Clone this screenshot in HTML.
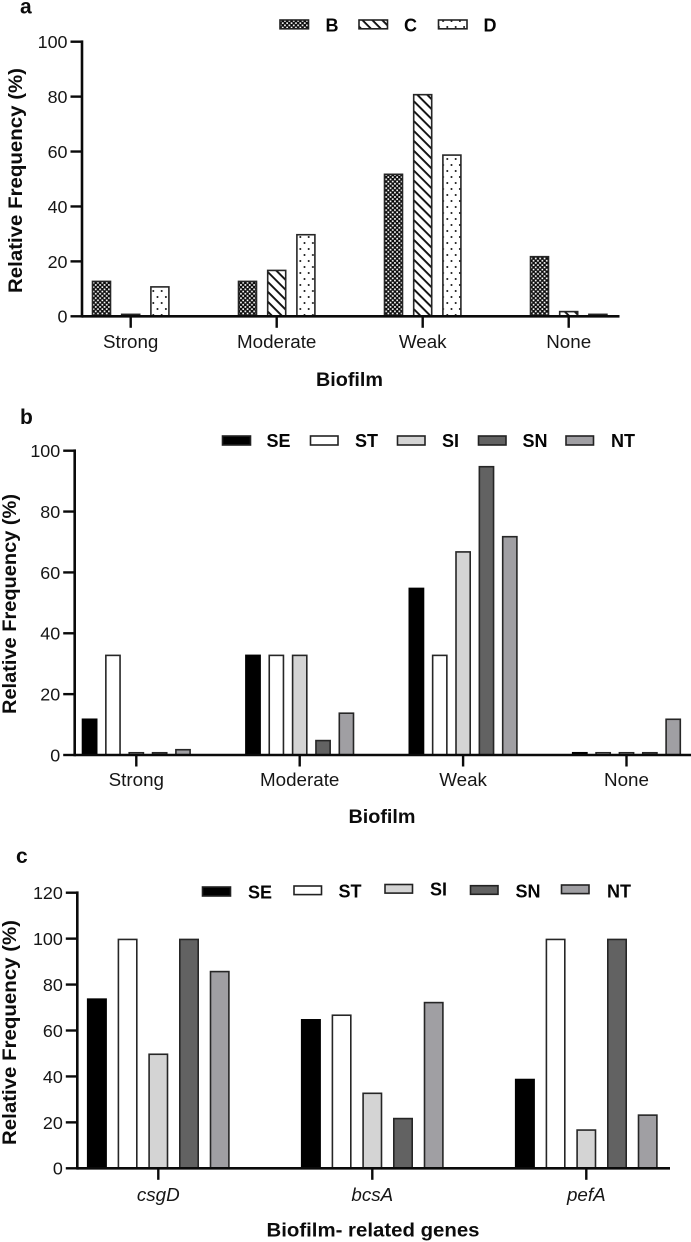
<!DOCTYPE html>
<html lang="en">
<head>
<meta charset="utf-8">
<title>Relative frequency of biofilm categories</title>
<style>
html,body{margin:0;padding:0;background:#fff;}
svg{display:block;font-family:"Liberation Sans",Arial,sans-serif;}
.bold{font-weight:700;fill:#111;}
.tick{font-size:17.9px;fill:#161616;}
.cat{font-size:18.8px;fill:#161616;}
.leg{font-size:18px;font-weight:700;fill:#050505;}
.title{font-size:19.8px;font-weight:700;fill:#0c0c0c;}
.panel{font-size:21px;font-weight:700;fill:#0c0c0c;}
</style>
</head>
<body>
<svg id="fig" width="691" height="1242" viewBox="0 0 691 1242" xmlns="http://www.w3.org/2000/svg">
  <defs>
    <pattern id="pat-b" width="4.4" height="4.4" patternUnits="userSpaceOnUse">
      <rect width="4.4" height="4.4" fill="#0b0b0b"/>
      <rect x="0.3" y="0.3" width="1.7" height="1.7" fill="#fff"/>
      <rect x="2.5" y="2.5" width="1.7" height="1.7" fill="#fff"/>
    </pattern>
    <pattern id="pat-c" width="7" height="7" patternUnits="userSpaceOnUse" patternTransform="rotate(45)">
      <rect width="7" height="7" fill="#fff"/>
      <rect width="7" height="1.9" y="2" fill="#111"/>
    </pattern>
    <pattern id="pat-d" width="8.4" height="12" patternUnits="userSpaceOnUse">
      <rect width="8.4" height="12" fill="#fff"/>
      <circle cx="2.1" cy="3" r="1" fill="#111"/>
      <circle cx="6.3" cy="9" r="1" fill="#111"/>
    </pattern>
  </defs>
  <rect width="691" height="1242" fill="#fff"/>

  <text class="panel" x="20" y="13.5">a</text>
  <text class="panel" x="20" y="424">b</text>
  <text class="panel" x="16" y="863">c</text>

  <g stroke="#222" stroke-width="1.6">
    <rect x="280" y="20" width="28.5" height="8.8" fill="url(#pat-b)"/>
    <text class="leg" stroke="none" x="325.5" y="31.3">B</text>
    <rect x="359" y="20" width="28.5" height="8.8" fill="url(#pat-c)"/>
    <text class="leg" stroke="none" x="404" y="31.3">C</text>
    <rect x="438.5" y="20" width="28.5" height="8.8" fill="url(#pat-d)"/>
    <text class="leg" stroke="none" x="483.5" y="31.3">D</text>
  </g>

  <g stroke="#222" stroke-width="1.6">
    <rect x="222.5" y="436" width="28" height="9" fill="#000"/>
    <text class="leg" stroke="none" x="266.5" y="447">SE</text>
    <rect x="310.5" y="436" width="27.5" height="9" fill="#fff"/>
    <text class="leg" stroke="none" x="355" y="447">ST</text>
    <rect x="397.5" y="436" width="27.5" height="9" fill="#d4d4d4"/>
    <text class="leg" stroke="none" x="442" y="447">SI</text>
    <rect x="478.5" y="436" width="27.5" height="9" fill="#626262"/>
    <text class="leg" stroke="none" x="522.5" y="447">SN</text>
    <rect x="566" y="436" width="27.5" height="9" fill="#a09fa3"/>
    <text class="leg" stroke="none" x="611" y="447">NT</text>
  </g>

  <g stroke="#222" stroke-width="1.6">
    <rect x="202.5" y="887" width="28" height="9" fill="#000"/>
    <text class="leg" stroke="none" x="248" y="898.5">SE</text>
    <rect x="294" y="886" width="27.5" height="8.6" fill="#fff"/>
    <text class="leg" stroke="none" x="338.5" y="897.5">ST</text>
    <rect x="385" y="884.5" width="27.5" height="8.6" fill="#d4d4d4"/>
    <text class="leg" stroke="none" x="430" y="895.5">SI</text>
    <rect x="470.5" y="885.7" width="27.5" height="8.6" fill="#626262"/>
    <text class="leg" stroke="none" x="515.5" y="897.5">SN</text>
    <rect x="561.5" y="885" width="27.5" height="8.6" fill="#a09fa3"/>
    <text class="leg" stroke="none" x="607" y="897.5">NT</text>
  </g>

  <text class="title" transform="translate(22,180.5) rotate(-90)" text-anchor="middle" textLength="225" lengthAdjust="spacingAndGlyphs">Relative Frequency (%)</text>
  <text class="title" x="349.5" y="386" text-anchor="middle">Biofilm</text>
  <text class="title" transform="translate(16,604) rotate(-90)" text-anchor="middle" textLength="220" lengthAdjust="spacingAndGlyphs">Relative Frequency (%)</text>
  <text class="title" x="382" y="823" text-anchor="middle">Biofilm</text>
  <text class="title" transform="translate(16,1032.5) rotate(-90)" text-anchor="middle" textLength="225" lengthAdjust="spacingAndGlyphs">Relative Frequency (%)</text>
  <text class="title" x="373" y="1236.5" text-anchor="middle" textLength="213" lengthAdjust="spacingAndGlyphs">Biofilm- related genes</text>
</svg>

<script>
// Chart a data
const categoriesA = ["Strong", "Moderate", "Weak", "None"];
const seriesNamesA = ["B", "C", "D"];
const valuesAB = [13, 13, 52, 22];
const valuesAC = [1, 17, 81, 2];
const valuesAD = [11, 30, 59, 1];
const ticksA = [0, 20, 40, 60, 80, 100];

// Chart b data
const categoriesB = ["Strong", "Moderate", "Weak", "None"];
const seriesNamesB = ["SE", "ST", "SI", "SN", "NT"];
const valuesBSE = [12, 33, 55, 1];
const valuesBST = [33, 33, 33, 1];
const valuesBSI = [1, 33, 67, 1];
const valuesBSN = [1, 5, 95, 1];
const valuesBNT = [2, 14, 72, 12];
const ticksB = [0, 20, 40, 60, 80, 100];

// Chart c data
const categoriesC = ["csgD", "bcsA", "pefA"];
const seriesNamesC = ["SE", "ST", "SI", "SN", "NT"];
const valuesCSE = [74, 65, 39];
const valuesCST = [100, 67, 100];
const valuesCSI = [50, 33, 17];
const valuesCSN = [100, 22, 100];
const valuesCNT = [86, 72.5, 23.5];
const ticksC = [0, 20, 40, 60, 80, 100, 120];

const NS = "http://www.w3.org/2000/svg";
const fig = document.getElementById("fig");

function make(tag, attrs, parent) {
  const el = document.createElementNS(NS, tag);
  for (const k in attrs) el.setAttribute(k, attrs[k]);
  parent.appendChild(el);
  return el;
}

function drawChart(cfg) {
  const root = make("g", {}, fig);
  
  

  const maxTick = cfg.ticks[cfg.ticks.length - 1];
  const yScale = v => cfg.y0 - (v / maxTick) * (cfg.y0 - cfg.yTop);
  const xScale = i => cfg.xFirst + i * cfg.xStep;
  const n = cfg.series.length;

  // bars
  cfg.series.forEach((vals, s) => {
    vals.forEach((v, i) => {
      const cx = xScale(i) + (s - (n - 1) / 2) * cfg.barStep;
      const top = yScale(v);
      const bar = make("rect", {
        x: cx - cfg.barW / 2 + 0.8,
        y: top + 0.8,
        width: cfg.barW - 1.6,
        height: Math.max(cfg.y0 - top - 0.8, 0.5),
        fill: cfg.fills[s],
        stroke: s === 0 && cfg.black ? "#000" : "#262626",
        "stroke-width": 1.6
      }, root);
      
      
    });
  });

  // y axis line
  const yAxis = make("line", {
    x1: cfg.xAxis, x2: cfg.xAxis, y1: cfg.yTop - 1.3, y2: cfg.y0 + 1.3,
    stroke: "#0a0a0a", "stroke-width": 2.6
  }, root);
  
  

  // x axis line
  const xAxis = make("line", {
    x1: cfg.xAxis, x2: cfg.xEnd, y1: cfg.y0, y2: cfg.y0,
    stroke: "#0a0a0a", "stroke-width": 2.6
  }, root);
  
  

  // y ticks
  cfg.ticks.forEach(t => {
    const y = yScale(t);
    const tick = make("line", {
      x1: cfg.xAxis - 11.5, x2: cfg.xAxis, y1: y, y2: y,
      stroke: "#0a0a0a", "stroke-width": 2.4
    }, root);
    
    
    const label = make("text", {
      x: cfg.xAxis - 14.5, y: y + 6.4, "text-anchor": "end", class: "tick"
    }, root);
    
    
    label.textContent = String(t);
  });

  // x ticks
  cfg.categories.forEach((c, i) => {
    const x = xScale(i);
    const tick = make("line", {
      x1: x, x2: x, y1: cfg.y0, y2: cfg.y0 + 11.5,
      stroke: "#0a0a0a", "stroke-width": 2.4
    }, root);
    
    
    const label = make("text", {
      x: x, y: cfg.catY, "text-anchor": "middle", class: "cat"
    }, root);
    
    
    if (cfg.italic) label.setAttribute("font-style", "italic");
    label.textContent = c;
  });
}

drawChart({
  name: "chart-a", categories: categoriesA, seriesNames: seriesNamesA,
  series: [valuesAB, valuesAC, valuesAD], ticks: ticksA,
  fills: ["url(#pat-b)", "url(#pat-c)", "url(#pat-d)"],
  xAxis: 82, xEnd: 619.5, yTop: 41.7, y0: 316.3,
  xFirst: 130.7, xStep: 146, barW: 19.6, barStep: 29.2, catY: 348
});

drawChart({
  name: "chart-b", categories: categoriesB, seriesNames: seriesNamesB,
  series: [valuesBSE, valuesBST, valuesBSI, valuesBSN, valuesBNT], ticks: ticksB,
  fills: ["#000", "#fff", "#d4d4d4", "#626262", "#a09fa3"], black: true,
  xAxis: 74.7, xEnd: 691, yTop: 450.7, y0: 755,
  xFirst: 136.3, xStep: 163.4, barW: 15.8, barStep: 23.35, catY: 786
});

drawChart({
  name: "chart-c", categories: categoriesC, seriesNames: seriesNamesC,
  series: [valuesCSE, valuesCST, valuesCSI, valuesCSN, valuesCNT], ticks: ticksC,
  fills: ["#000", "#fff", "#d4d4d4", "#626262", "#a09fa3"], black: true, italic: true,
  xAxis: 77.3, xEnd: 670, yTop: 892.7, y0: 1168.3,
  xFirst: 158.3, xStep: 214, barW: 20, barStep: 30.7, catY: 1201
});
</script>
</body>
</html>
